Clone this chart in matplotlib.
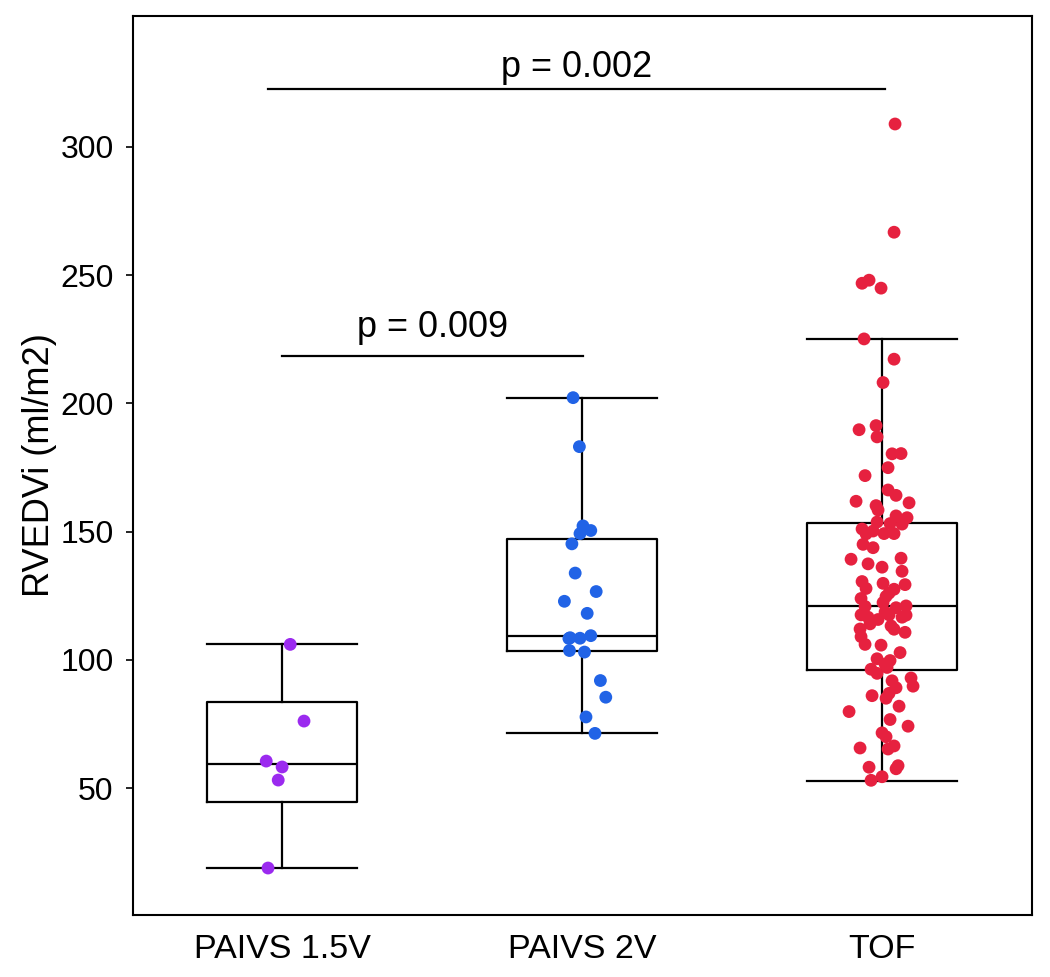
import matplotlib
matplotlib.use("Agg")
import matplotlib.pyplot as plt

# groups
groups = ["PAIVS 1.5V", "PAIVS 2V", "TOF"]
colors = ["#9B2AEF", "#2163E6", "#E6213F"]

# RVEDVi values (ml/m2)
paivs15 = [106.0, 76.1, 60.5, 58.2, 53.1, 18.8]
paivs2 = [202.2, 183.1, 152.2, 150.4, 149.2, 145.2, 133.8, 126.6, 122.8, 118.1,
          108.6, 108.4, 109.4, 108.3, 103.6, 103.0, 91.9, 85.4, 77.7, 71.3]
tof = [308.9, 266.7, 246.8, 248.0, 244.9, 225.1, 217.2, 208.1, 189.7, 191.3,
       186.9, 180.3, 180.4, 174.9, 171.8, 166.2, 164.1, 161.8, 161.2, 160.1,
       158.4, 156.1, 155.4, 153.7, 153.1, 152.9, 151.0, 150.2, 149.1, 149.2,
       149.2, 145.0, 143.7, 139.2, 139.6, 137.4, 136.1, 134.5, 130.5, 129.8,
       129.3, 127.8, 127.5, 126.0, 124.7, 123.9, 122.3, 120.8, 120.3, 121.0,
       117.5, 116.6, 118.6, 117.5, 116.6, 117.4, 115.7, 114.0, 113.2, 111.9,
       112.0, 110.7, 109.0, 106.0, 105.7, 102.8, 100.4, 99.7, 98.3, 96.3,
       94.7, 97.0, 92.9, 89.7, 91.8, 89.1, 86.9, 85.0, 86.0, 81.9,
       79.8, 76.7, 74.1, 71.5, 70.0, 65.6, 65.2, 66.4, 58.1, 57.5,
       58.7, 54.4, 53.0]

# horizontal jitter (in category units) as seen in the picture
jit15 = [0.027, 0.073, -0.053, 0.0, -0.013, -0.047]
jit2 = [-0.030, -0.009, 0.003, 0.029, -0.007, -0.034, -0.023, 0.047, -0.059, 0.017,
        -0.040, -0.007, 0.029, -0.044, -0.042, 0.008, 0.061, 0.079, 0.013, 0.043]
jittof = [13, 12, -20, -13, -1, -18, 12, 1, -23, -6,
          -5, 10, 19, 6, -17, 6, 14, -26, 27, -6,
          -4, 14, 25, -5, 8, 20, -20, -9, -16, 2,
          12, -19, -9, -31, 19, -14, 0, 20, -20, 1,
          23, -16, 12, 7, 4, -21, 1, -17, 14, 24,
          -21, -14, 3, 7, 20, 24, -4, -12, 9, 12,
          -22, 23, -21, -17, -1, 18, -5, 8, 3, -11,
          -5, 5, 29, 31, 10, 14, 7, 4, -10, 17,
          -33, 8, 26, 0, 4, -22, 6, 12, -13, 14,
          16, 0, -11]
jittof = [j / 300 for j in jittof]

# box statistics (whisker low, q1, median, q3, whisker high)
box_stats = [
    (18.8, 44.5, 59.4, 83.4, 106.2),
    (71.3, 103.3, 109.4, 147.0, 202.2),
    (52.9, 96.0, 120.8, 153.4, 225.0),
]

plt.rcParams['font.family'] = ['Liberation Sans', 'DejaVu Sans']

fig = plt.figure(figsize=(10.5, 9.77), dpi=100)
ax = fig.add_axes([0.1267, 0.0635, 0.8562, 0.9201])

stats = []
for g, (lo, q1, med, q3, hi) in zip(groups, box_stats):
    stats.append({"label": g, "whislo": lo, "q1": q1, "med": med,
                  "q3": q3, "whishi": hi, "fliers": []})

lp = dict(color="black", linewidth=1.6)
ax.bxp(stats, positions=[1, 2, 3], widths=0.5, capwidths=0.5,
       showfliers=False, boxprops=lp, whiskerprops=lp, capprops=lp,
       medianprops=lp, patch_artist=False, zorder=1)

for i, (vals, jit) in enumerate([(paivs15, jit15), (paivs2, jit2), (tof, jittof)]):
    xs = [i + 1 + j for j in jit]
    ax.scatter(xs, vals, s=85, color=colors[i], edgecolors="none", zorder=3)

# significance bars
ax.plot([0.953, 3.01], [322.6, 322.6], color="black", lw=1.6)
ax.text(1.983, 327.3, "p = 0.002", ha="center", va="baseline", fontsize=26)
ax.plot([1.0, 2.003], [218.5, 218.5], color="black", lw=1.6)
ax.text(1.5, 225.9, "p = 0.009", ha="center", va="baseline", fontsize=26)

ax.set_xlim(0.503, 3.5)
ax.set_ylim(0.5, 351)
ax.set_yticks([50, 100, 150, 200, 250, 300])
ax.set_xticks([1, 2, 3])
ax.set_xticklabels(groups, fontsize=24.5)
ax.tick_params(axis="y", labelsize=23, length=5, width=1.2, pad=9)
ax.tick_params(axis="x", length=0, pad=14)
ax.set_ylabel("RVEDVi (ml/m2)", fontsize=26, labelpad=2)
for s in ax.spines.values():
    s.set_linewidth(1.5)

fig.savefig("out.png", dpi=100)
